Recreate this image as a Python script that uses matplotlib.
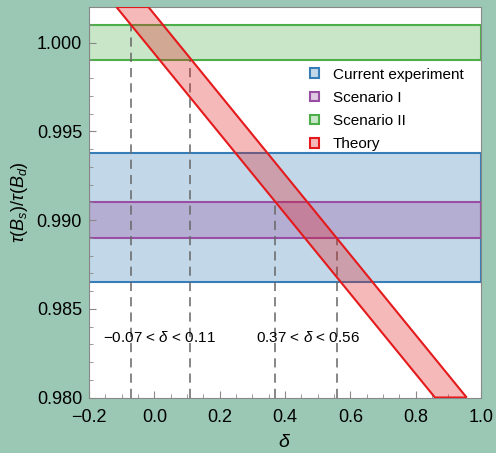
import matplotlib
matplotlib.use('Agg')
import matplotlib.pyplot as plt
from matplotlib.colors import to_rgba
from matplotlib.ticker import MultipleLocator, AutoMinorLocator

plt.rcParams['font.family'] = ['Liberation Sans', 'DejaVu Sans']
plt.rcParams['mathtext.fontset'] = 'custom'
plt.rcParams['mathtext.it'] = 'Liberation Sans:italic'
plt.rcParams['mathtext.rm'] = 'Liberation Sans'

# ============================================
# DATA
# ============================================
band_labels = ['Current experiment', 'Scenario I', 'Scenario II']
band_low = [0.9865, 0.989, 0.999]
band_high = [0.9938, 0.991, 1.001]
band_colors = ['#377eb8', '#984ea3', '#4daf4a']

# theory band corners (delta, tau ratio), clipped to the plot range
theory_delta = [-0.116, -0.018, 0.956, 0.859]
theory_tau = [1.002, 1.002, 0.980, 0.980]
theory_color = '#e41a1c'

# delta ranges where theory meets the scenarios
dash_x = [-0.07, 0.11, 0.37, 0.56]
dash_top = [1.001, 0.999, 0.991, 0.989]
range_text = ['\u22120.07 < $\\delta$ < 0.11', '0.37 < $\\delta$ < 0.56']
range_x = [0.017, 0.470]
range_y = 0.9834

# ============================================
# PLOT
# ============================================
fig = plt.figure(figsize=(4.96, 4.53), dpi=100, facecolor='#9bc8b5')
ax = fig.add_axes([0.1794, 0.1225, 0.7904, 0.862])
ax.set_facecolor('white')

for lab, lo, hi, c in zip(band_labels, band_low, band_high, band_colors):
    ax.axhspan(lo, hi, facecolor=to_rgba(c, 0.3), edgecolor=c, lw=1.5, label=lab)

ax.fill(theory_delta, theory_tau, facecolor=to_rgba(theory_color, 0.3),
        edgecolor=theory_color, lw=1.5, label='Theory', zorder=3)

ax.vlines(dash_x, 0.980, dash_top, colors='#666666', lw=1.1,
          linestyles=(0, (6, 4)), zorder=2.5)

for t, x in zip(range_text, range_x):
    ax.text(x, range_y, t, ha='center', va='center', fontsize=11)

ax.set_xlim(-0.2, 1.0)
ax.set_ylim(0.980, 1.002)
ax.xaxis.set_major_locator(MultipleLocator(0.2))
ax.xaxis.set_minor_locator(AutoMinorLocator(4))
ax.yaxis.set_major_locator(MultipleLocator(0.005))
ax.yaxis.set_minor_locator(AutoMinorLocator(5))
ax.xaxis.set_major_formatter(plt.FuncFormatter(lambda v, p: f'{v:.1f}'.replace('-', '\u2212')))
ax.yaxis.set_major_formatter(plt.FuncFormatter(lambda v, p: f'{v:.3f}'))
ax.tick_params(which='both', direction='in', color='#888888', top=False, right=False,
               labelsize=13)
ax.tick_params(which='major', length=5)
ax.tick_params(which='minor', length=3)
ax.tick_params(axis='x', pad=8)
ax.tick_params(axis='y', pad=5)
for s in ax.spines.values():
    s.set_color('#888888')

ax.set_xlabel('$\\delta$', fontsize=14, labelpad=6)
ax.set_ylabel('$\\tau(B_s)/\\tau(B_d)$', fontsize=13, labelpad=5)

ax.legend(loc='upper right', bbox_to_anchor=(0.99, 0.88), frameon=False,
          fontsize=11, handlelength=0.6, handleheight=0.6,
          handletextpad=0.9, labelspacing=0.6)

plt.savefig('out.png', dpi=100, facecolor=fig.get_facecolor())
